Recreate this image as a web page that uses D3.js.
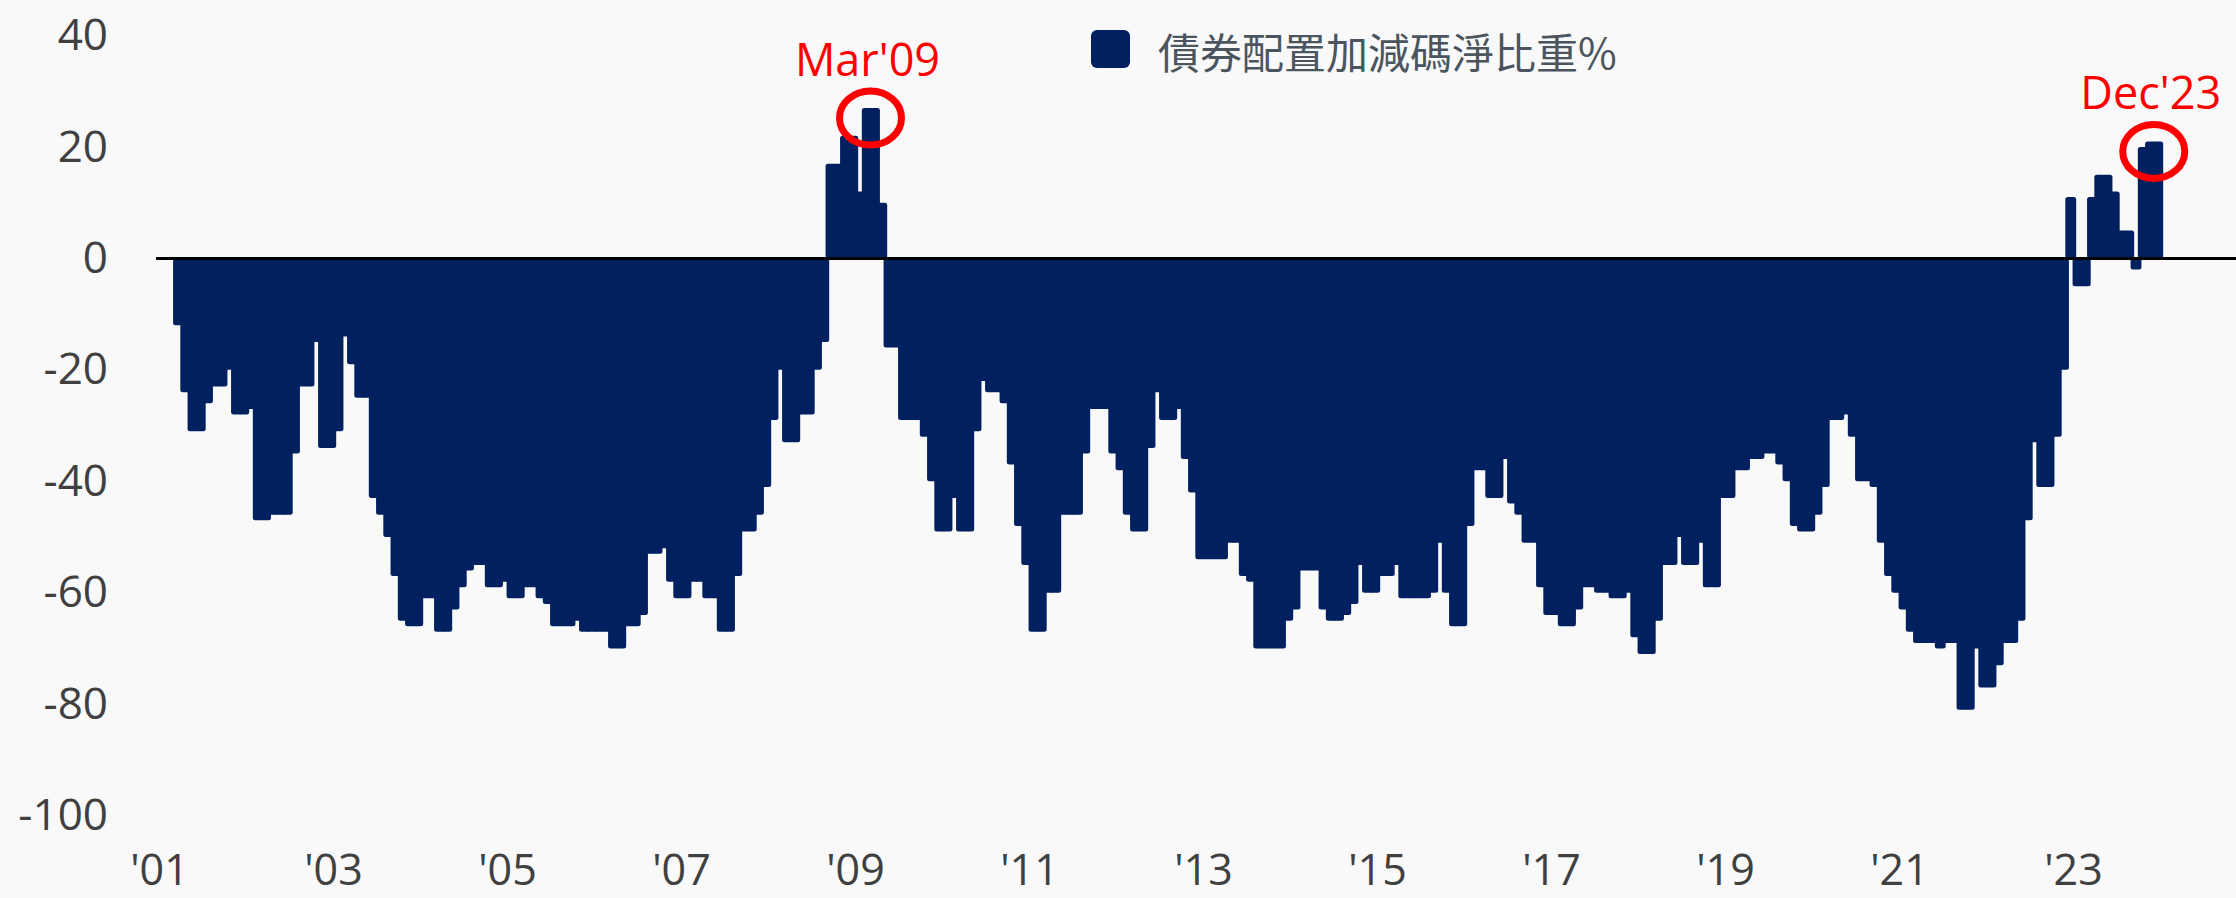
<!DOCTYPE html>
<html><head><meta charset="utf-8">
<script src="https://cdn.jsdelivr.net/npm/d3@7"></script>
<style>html,body{margin:0;padding:0;background:#f9f9f9;} svg{display:block;}</style>
</head><body>
<svg id="chart" width="2236" height="898"></svg>
<script>
// ---------------- data ----------------
const seriesName = "債券配置加減碼淨比重%";
const firstMonth = "2001-03";
const netWeight = [
  -12, -24, -31, -31, -26, -23, -23, -20, -28, -28,
  -27, -47, -47, -46, -46, -46, -35, -23, -23, -15, -34, -34,
  -31, -14, -19, -25, -25, -43, -46, -50, -57, -65, -66, -66,
  -61, -61, -67, -67, -63, -59, -56, -55, -55, -59, -59, -58,
  -61, -61, -59, -59, -61, -62, -66, -66, -66, -65, -67, -67,
  -67, -67, -70, -70, -66, -66, -64, -53, -53, -52, -58, -61,
  -61, -58, -58, -61, -61, -67, -67, -57, -49, -49, -46, -41,
  -29, -20, -33, -33, -28, -28, -20, -15, 17, 17, 22, 22,
  12, 27, 27, 10, -16, -16, -29, -29, -29, -32, -40, -49,
  -49, -43, -49, -49, -31, -22, -24, -24, -26, -37, -48, -55,
  -67, -67, -60, -60, -46, -46, -46, -35, -27, -27, -27, -35,
  -38, -46, -49, -49, -34, -24, -29, -29, -27, -36, -42, -54,
  -54, -54, -54, -51, -51, -57, -58, -70, -70, -70, -70, -65,
  -63, -56, -56, -56, -63, -65, -65, -64, -62, -55, -60, -60,
  -57, -57, -55, -61, -61, -61, -61, -60, -51, -60, -66, -66,
  -48, -38, -38, -43, -43, -36, -44, -46, -51, -51, -59, -64,
  -64, -66, -66, -63, -59, -59, -60, -60, -61, -61, -60, -68,
  -71, -71, -65, -55, -55, -50, -55, -55, -51, -59, -59, -43,
  -43, -38, -38, -36, -36, -35, -35, -37, -40, -48, -49, -49,
  -46, -41, -29, -29, -28, -32, -40, -40, -41, -51, -57, -60,
  -63, -67, -69, -69, -69, -70, -69, -69, -81, -81, -70, -77,
  -77, -73, -69, -69, -65, -47, -33, -41, -41, -32, -20, 11,
  -5, -5, 11, 15, 15, 12, 5, 5, -2, 20, 21, 21
];
const xTickYears = [2001, 2003, 2005, 2007, 2009, 2011, 2013, 2015, 2017, 2019, 2021, 2023];
const xTickLabels = ["'01", "'03", "'05", "'07", "'09", "'11", "'13", "'15", "'17", "'19", "'21", "'23"];
const yTicks = [40, 20, 0, -20, -40, -60, -80, -100];
const calloutLabels = ["Mar'09", "Dec'23"];
const calloutMonths = ["2009-03", "2023-12"];

// ---------------- layout ----------------
const W = 2236, H = 898;
const barColor = "#002060";
const textColor = "#404040";
const red = "#ff0000";

const svg = d3.select("#chart");
svg.append("rect").attr("width", W).attr("height", H).attr("fill", "#f9f9f9");

const parse = d3.timeParse("%Y-%m");
const start = parse(firstMonth);
const monthIndex = d => d3.timeMonth.count(start, d);

const x = d3.scaleLinear().domain([0, netWeight.length - 1]).range([178.5, 2157.75]);
const y = d3.scaleLinear().domain([-100, 40]).range([815.7, 35.5]);
const step = x(1) - x(0);
const bw = step * 1.5;

// bars
svg.append("g").selectAll("rect").data(netWeight).join("rect")
  .attr("x", (d, i) => x(i) - bw / 2)
  .attr("y", d => Math.min(y(d), y(0)))
  .attr("width", bw)
  .attr("height", d => Math.abs(y(d) - y(0)))
  .attr("rx", 2.5)
  .attr("fill", barColor);

// zero line
svg.append("line")
  .attr("x1", 156).attr("x2", W)
  .attr("y1", y(0)).attr("y2", y(0))
  .attr("stroke", "#000").attr("stroke-width", 3);

// y axis
const gy = svg.append("g").attr("transform", "translate(108,0)")
  .call(d3.axisLeft(y).tickValues(yTicks).tickSize(0).tickPadding(0).tickFormat(d => String(d)));
gy.select(".domain").remove();
gy.selectAll("text")
  .attr("font-family", "'Open Sans', sans-serif")
  .attr("font-size", 44)
  .attr("fill", textColor);

// x axis
const janPos = xTickYears.map(yr => monthIndex(new Date(yr, 0, 1)) - 0.7);
const gx = svg.append("g").attr("transform", "translate(0,885)")
  .call(d3.axisBottom(x).tickValues(janPos).tickSize(0).tickPadding(0)
    .tickFormat((d, i) => xTickLabels[i]));
gx.select(".domain").remove();
gx.selectAll("text")
  .attr("dy", 0)
  .attr("font-family", "'Open Sans', sans-serif")
  .attr("font-size", 43)
  .attr("fill", textColor);

// legend
svg.append("rect")
  .attr("x", 1091).attr("y", 30).attr("width", 39).attr("height", 38)
  .attr("rx", 6).attr("fill", barColor);
svg.append("text")
  .attr("x", 1158).attr("y", 50)
  .attr("dominant-baseline", "central")
  .attr("font-family", "'Noto Sans CJK TC', 'Noto Sans CJK SC', sans-serif")
  .attr("font-size", 42)
  .attr("fill", "#4b5560")
  .text(seriesName);

// callouts
calloutMonths.forEach((m, k) => {
  const i = monthIndex(parse(m));
  const v = netWeight[i];
  const cx = x(i) - 4;
  const cy = y(v) + 10;
  svg.append("ellipse")
    .attr("cx", cx).attr("cy", cy)
    .attr("rx", 31).attr("ry", 27)
    .attr("fill", "none")
    .attr("stroke", red).attr("stroke-width", 7);
  svg.append("text")
    .attr("x", cx - 3).attr("y", cy - 42)
    .attr("text-anchor", "middle")
    .attr("font-family", "'Open Sans', sans-serif")
    .attr("font-size", 45)
    .attr("fill", red)
    .text(calloutLabels[k]);
});
</script>
</body></html>
